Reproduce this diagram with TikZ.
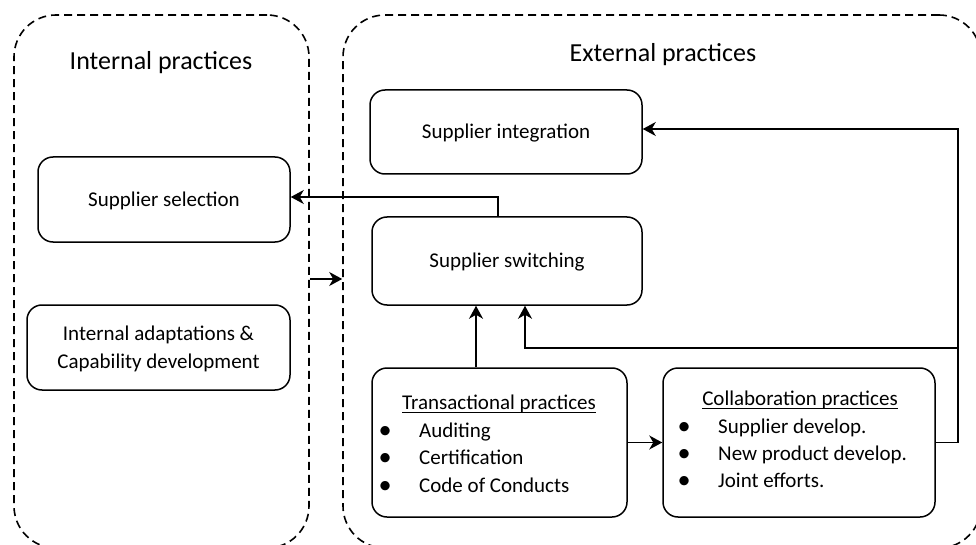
\documentclass[tikz,border=0pt]{standalone}
\usepackage{fontspec}
\usepackage{graphicx}
\setmainfont{Carlito}
\usetikzlibrary{arrows.meta}
% bullet placed 34pt to the left of the item text
\newcommand\itembul{\llap{\makebox[68pt][c]{\raisebox{-1.4pt}{\scalebox{1.25}{\textbullet}}}}}
\begin{document}
\begin{tikzpicture}[x=1pt,y=-1pt,
  region/.style={draw, dash pattern=on 8pt off 5pt, line width=1.6pt, rounded corners=42pt, inner sep=0pt},
  box/.style={draw, line width=1.5pt, rounded corners=15pt, inner sep=0pt,
    font=\fontsize{21}{28}\selectfont, text height=13.5pt, text depth=0pt},
  conn/.style={line width=1.5pt, -{Stealth[length=13pt,width=14pt,inset=4pt]}},
  title/.style={font=\fontsize{26}{31}\selectfont, anchor=base, inner sep=0pt},
  body/.style={font=\fontsize{21}{26}\selectfont, anchor=base west, inner sep=0pt},
  head/.style={font=\fontsize{21}{26}\selectfont, anchor=base, inner sep=0pt}]
\useasboundingbox (0,0) rectangle (976,545);

% dashed practice regions (running past the page edges)
\begin{scope}
  \clip (0,0) rectangle (976,545);
  \node[region, minimum width=295pt, minimum height=533pt] (internal) at (161.5,281.5) {};
  \node[region, minimum width=638pt, minimum height=533pt] (external) at (662,281.5) {};
\end{scope}

\node[title] (intitle) at (161,70) {Internal practices};
\node[title] (extitle) at (663,62) {External practices};

% practice boxes
\node[box, minimum width=252pt, minimum height=85pt] (sel) at (164,199.5) {Supplier selection};
\node[box, minimum width=263pt, minimum height=85pt, align=center, text height=42pt] (adapt) at (158.5,347.5)
  {Internal adaptations \&\\Capability development};
\node[box, minimum width=272pt, minimum height=84pt] (integ) at (506,132) {Supplier integration};
\node[box, minimum width=270pt, minimum height=88pt] (switch) at (507,261) {Supplier switching};
\node[box, minimum width=255pt, minimum height=149pt] (trans) at (499.5,442.5) {};
\node[box, minimum width=272pt, minimum height=149pt] (collab) at (799,442.5) {};

% transactional practices list
\node[head] (transhead) at (499,409) {Transactional practices};
\draw[line width=1pt] ([yshift=-3.5pt]transhead.base west) -- ([yshift=-3.5pt]transhead.base east);
\node[body] (transa) at (419,437) {\itembul Auditing};
\node[body] (transb) at (419,464) {\itembul Certification};
\node[body] (transc) at (419,492) {\itembul Code of Conducts};

% collaboration practices list
\node[head] (collabhead) at (800,405) {Collaboration practices};
\draw[line width=1pt] ([yshift=-3.5pt]collabhead.base west) -- ([yshift=-3.5pt]collabhead.base east);
\node[body] (collaba) at (718,433) {\itembul Supplier develop.};
\node[body] (collabb) at (718,460) {\itembul New product develop.};
\node[body] (collabc) at (718,487) {\itembul Joint efforts.};

% connectors
\coordinate (k1) at (498,197);
\coordinate (k2) at (958,348);
\coordinate (k3) at (958,129);
\coordinate (k4) at (525,348);
\coordinate (k5) at (0,279);

\draw[conn] (switch.north -| k1) -- (k1) -- (sel.east |- k1);
\draw[conn] (internal.east |- k5) -- (external.west |- k5);
\draw[conn] ([xshift=-23.5pt]trans.north) -- ([xshift=-23.5pt]trans.north |- switch.south);
\draw[conn] (trans.east) -- (collab.west);
\draw[conn] (collab.east) -| (k3) -- (integ.east |- k3);
\draw[conn] (k2) -- (k4) -- (k4 |- switch.south);
\end{tikzpicture}
\end{document}
